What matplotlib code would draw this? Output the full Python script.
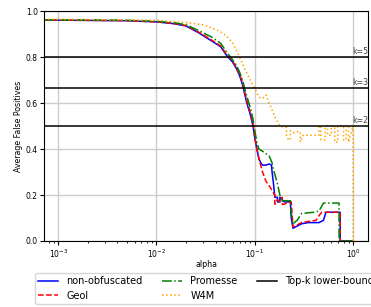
import matplotlib
matplotlib.use('Agg')
import matplotlib.pyplot as plt

# non-obfuscated
alpha_nonobf = [7.2e-4, 0.005, 0.01, 0.015, 0.02, 0.027, 0.037, 0.045, 0.052, 0.059, 0.065,
                0.07, 0.075, 0.083, 0.09, 0.096, 0.1, 0.105, 0.11, 0.115, 0.12, 0.13, 0.14,
                0.148, 0.15, 0.155, 0.16, 0.17, 0.17, 0.18, 0.18, 0.19, 0.2, 0.23, 0.235,
                0.245, 0.27, 0.3, 0.35, 0.45, 0.5, 0.53, 0.74, 0.74, 1.0]
fp_nonobf = [0.961, 0.958, 0.953, 0.945, 0.935, 0.905, 0.868, 0.845, 0.805, 0.78, 0.75,
             0.72, 0.68, 0.60, 0.55, 0.50, 0.45, 0.40, 0.36, 0.34, 0.33, 0.33, 0.335,
             0.33, 0.30, 0.25, 0.19, 0.19, 0.17, 0.17, 0.19, 0.18, 0.17, 0.17, 0.10,
             0.055, 0.065, 0.075, 0.08, 0.08, 0.09, 0.125, 0.125, 0.0, 0.0]

# Geol
alpha_geol = [7.2e-4, 0.005, 0.01, 0.015, 0.02, 0.027, 0.037, 0.045, 0.052, 0.059, 0.065,
              0.07, 0.075, 0.083, 0.09, 0.096, 0.1, 0.105, 0.11, 0.12, 0.13, 0.14, 0.15,
              0.16, 0.16, 0.17, 0.18, 0.19, 0.19, 0.2, 0.22, 0.235, 0.245, 0.27, 0.3,
              0.35, 0.42, 0.45, 0.48, 0.74, 0.74, 1.0]
fp_geol = [0.961, 0.958, 0.953, 0.946, 0.937, 0.908, 0.872, 0.848, 0.81, 0.785, 0.755,
           0.725, 0.69, 0.61, 0.56, 0.51, 0.45, 0.40, 0.36, 0.30, 0.26, 0.24, 0.22,
           0.20, 0.16, 0.18, 0.17, 0.19, 0.16, 0.16, 0.17, 0.17, 0.06, 0.07, 0.08,
           0.085, 0.09, 0.11, 0.125, 0.125, 0.0, 0.0]

# Promesse
alpha_promesse = [7.2e-4, 0.005, 0.01, 0.015, 0.02, 0.027, 0.037, 0.045, 0.052, 0.059, 0.065,
                  0.07, 0.075, 0.083, 0.09, 0.096, 0.1, 0.105, 0.11, 0.12, 0.13, 0.14, 0.15,
                  0.155, 0.17, 0.18, 0.19, 0.19, 0.23, 0.235, 0.245, 0.27, 0.3, 0.4, 0.45,
                  0.5, 0.72, 0.72, 1.0]
fp_promesse = [0.962, 0.96, 0.955, 0.95, 0.94, 0.915, 0.885, 0.86, 0.82, 0.79, 0.765,
               0.735, 0.70, 0.63, 0.58, 0.53, 0.48, 0.43, 0.40, 0.39, 0.38, 0.37, 0.34,
               0.31, 0.25, 0.20, 0.17, 0.175, 0.175, 0.12, 0.075, 0.09, 0.12, 0.125, 0.13,
               0.165, 0.165, 0.0, 0.0]

# W4M
alpha_w4m = [7.2e-4, 0.01, 0.02, 0.03, 0.037, 0.045, 0.052, 0.06, 0.07, 0.077, 0.083, 0.09,
             0.1, 0.105, 0.11, 0.12, 0.13, 0.14, 0.15, 0.16, 0.17, 0.18, 0.2, 0.21, 0.21,
             0.22, 0.23, 0.23, 0.25, 0.27, 0.29, 0.29, 0.31, 0.35, 0.4, 0.45, 0.45, 0.47,
             0.47, 0.52, 0.52, 0.55, 0.55, 0.6, 0.6, 0.65, 0.65, 0.7, 0.7, 0.8, 0.8,
             0.85, 0.85, 0.9, 0.9, 1.0, 1.0]
fp_w4m = [0.965, 0.96, 0.95, 0.94, 0.925, 0.91, 0.89, 0.86, 0.80, 0.76, 0.73, 0.70,
          0.665, 0.645, 0.625, 0.62, 0.635, 0.60, 0.57, 0.54, 0.52, 0.50, 0.495, 0.495,
          0.46, 0.44, 0.44, 0.48, 0.47, 0.475, 0.475, 0.43, 0.46, 0.46, 0.46, 0.46,
          0.50, 0.50, 0.44, 0.44, 0.50, 0.50, 0.46, 0.46, 0.50, 0.50, 0.43, 0.43,
          0.50, 0.50, 0.44, 0.44, 0.50, 0.50, 0.43, 0.50, 0.0]

# Top-k lower bounds
k_values = [5, 3, 2]
k_bounds = [0.8, 2 / 3, 0.5]

fig = plt.figure(figsize=(3.71, 3.07), dpi=100)
ax = fig.add_axes([0.119, 0.215, 0.873, 0.749])

ax.plot(alpha_nonobf, fp_nonobf, color='blue', ls='-', lw=1.1, label='non-obfuscated')
ax.plot(alpha_geol, fp_geol, color='red', ls='--', lw=1.1, label='Geol')
ax.plot(alpha_promesse, fp_promesse, color='green', ls='-.', lw=1.1, label='Promesse')
ax.plot(alpha_w4m, fp_w4m, color='orange', ls=':', lw=1.1, label='W4M')

for i, (k, b) in enumerate(zip(k_values, k_bounds)):
    ax.axhline(b, color='black', lw=1.1, label='Top-k lower-bound' if i == 0 else None)
    ax.text(1.0, b + 0.004, 'k=%d' % k, transform=ax.get_yaxis_transform(),
            ha='right', va='bottom', fontsize=5.6, color='#444444')

ax.set_xscale('log')
ax.set_xlim(7.2e-4, 1.42)
ax.set_ylim(0, 1.0)
ax.set_xlabel('alpha', fontsize=5.7, labelpad=0)
ax.set_ylabel('Average False Positives', fontsize=5.7, labelpad=2)
ax.tick_params(which='major', labelsize=5.5, length=3, pad=1.5)
ax.tick_params(which='minor', length=1.7)
ax.grid(True, which='major', color='#cccccc', lw=1.0)
ax.set_axisbelow(True)

handles, labels = ax.get_legend_handles_labels()
fig.legend(handles, labels, loc='upper left', bbox_to_anchor=(35 / 371, 1 - 273 / 307),
           ncol=3, fontsize=7.0, handlelength=2.0, handletextpad=0.9, columnspacing=2.0,
           labelspacing=0.45, borderaxespad=0, borderpad=0.35)

fig.savefig('out.png', dpi=100)
